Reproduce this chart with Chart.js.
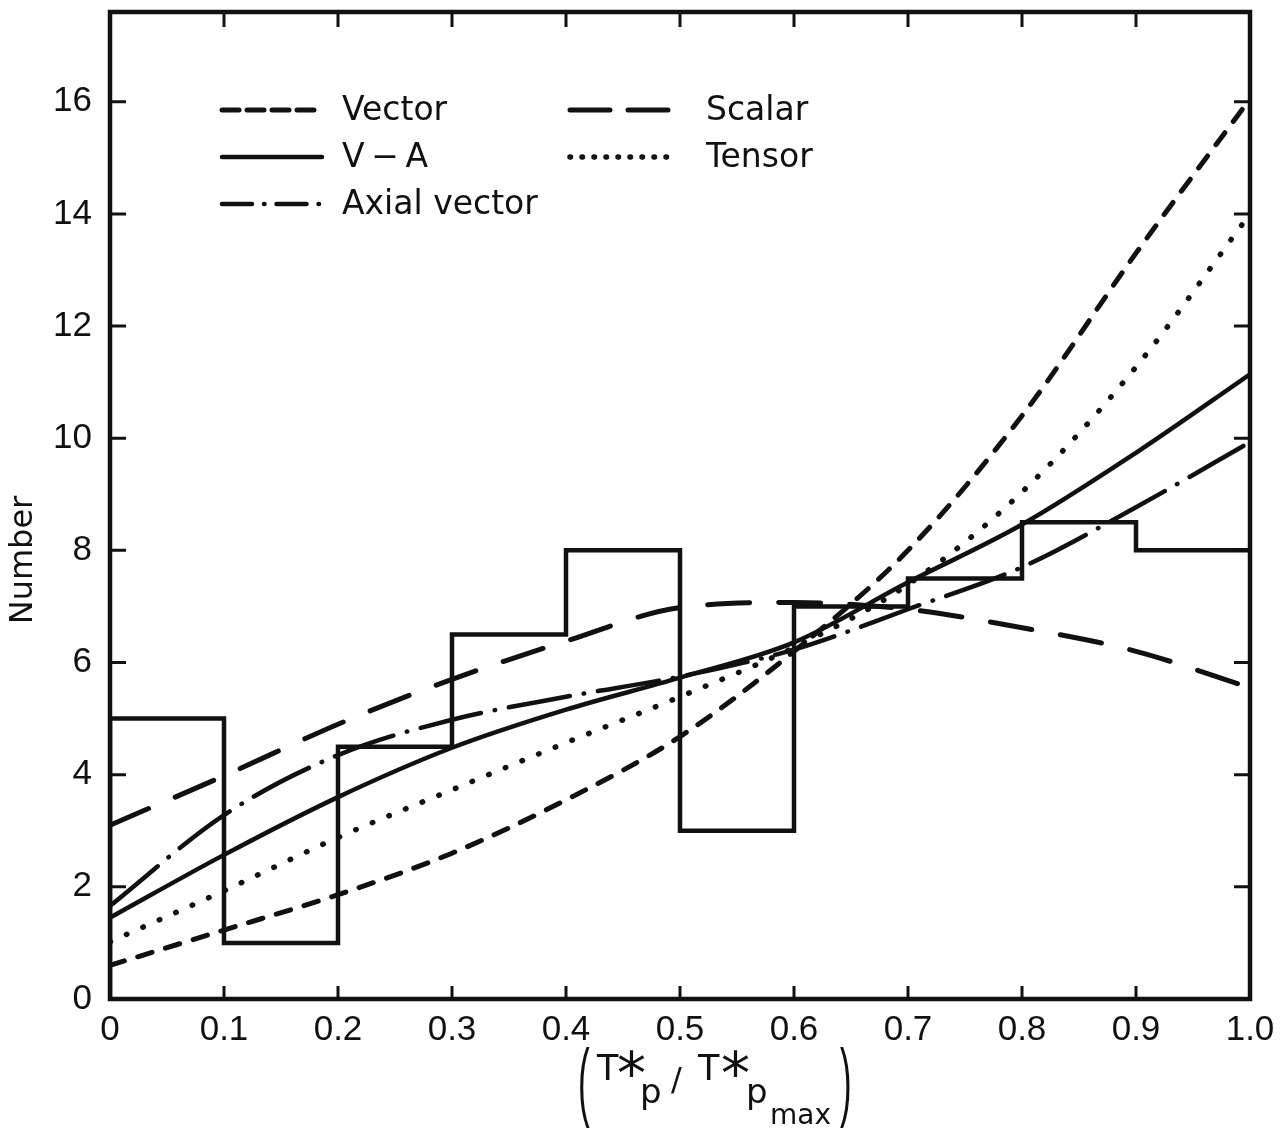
<!DOCTYPE html>
<html><head><meta charset="utf-8">
<script src="https://cdn.jsdelivr.net/npm/chart.js@4.4.1/dist/chart.umd.min.js"></script>
<style>html,body{margin:0;padding:0;background:#fff;overflow:hidden}#c{display:block}</style>
</head><body>
<canvas id="c" width="1285" height="1129" style="width:1285px;height:1129px"></canvas>
<script>
// ---- data ----
const xGrid = [0, 0.1, 0.2, 0.3, 0.4, 0.5, 0.6, 0.7, 0.8, 0.9, 1.0];
const xTickLabels = ['0', '0.1', '0.2', '0.3', '0.4', '0.5', '0.6', '0.7', '0.8', '0.9', '1.0'];
const yTickValues = [0, 2, 4, 6, 8, 10, 12, 14, 16];
const binEdges = [0, 0.1, 0.2, 0.3, 0.4, 0.5, 0.6, 0.7, 0.8, 0.9, 1.0];
const binCounts = [5, 1, 4.5, 6.5, 8, 3, 7, 7.5, 8.5, 8];
const vectorY = [0.6, 1.23, 1.86, 2.6, 3.55, 4.68, 6.2, 8.0, 10.4, 13.3, 16.05];
const vaY     = [1.45, 2.57, 3.6, 4.48, 5.16, 5.73, 6.36, 7.43, 8.46, 9.74, 11.14];
const axialY  = [1.66, 3.28, 4.35, 4.98, 5.39, 5.75, 6.23, 6.95, 7.7, 8.77, 9.93];
const scalarY = [3.1, 3.98, 4.9, 5.7, 6.38, 6.98, 7.07, 6.95, 6.62, 6.2, 5.55];
const tensorY = [1.02, 1.93, 2.88, 3.73, 4.57, 5.39, 6.27, 7.39, 9.04, 11.27, 14.0];
const seriesNames = ['Vector', 'V\u2009\u2212\u2009A', 'Axial vector', 'Scalar', 'Tensor'];
const yTitle = 'Number';

const INK = '#111';
const FONT = '"Liberation Sans", Arial, sans-serif';
const FONT2 = '"DejaVu Sans", sans-serif';

function pts(xs, ys) { return xs.map((x, i) => ({x: x, y: ys[i]})); }
const histPts = [{x: binEdges[0], y: 0}].concat(
  binEdges.map((e, i) => ({x: e, y: i < binCounts.length ? binCounts[i] : binCounts[binCounts.length - 1]}))
);

const styles = [
  {dash: [15, 14], width: 5, legendDash: [17, 8]},
  {dash: [], width: 4.5, legendDash: []},
  {dash: [62, 14, 0.5, 14], width: 4.5, legendDash: [30, 12, 0.5, 12]},
  {dash: [42, 29], width: 5, legendDash: [40, 18]},
  {dash: [0.5, 17.5], width: 5.5, legendDash: [0.5, 11.5]}
];
const seriesData = [vectorY, vaY, axialY, scalarY, tensorY];

const datasets = seriesData.map((ys, i) => ({
  label: seriesNames[i],
  data: pts(xGrid, ys),
  borderColor: INK,
  borderWidth: styles[i].width,
  borderDash: styles[i].dash,
  borderCapStyle: 'round',
  borderJoinStyle: 'round',
  pointRadius: 0,
  cubicInterpolationMode: 'monotone',
  fill: false
}));
datasets.push({
  label: 'histogram',
  data: histPts,
  borderColor: INK,
  borderWidth: 4.5,
  stepped: 'before',
  pointRadius: 0,
  fill: false
});

const decor = {
  id: 'decor',
  afterDraw(chart) {
    const ctx = chart.ctx;
    const a = chart.chartArea;
    const xs = chart.scales.x, ys = chart.scales.y;
    ctx.save();
    ctx.strokeStyle = INK; ctx.fillStyle = INK;
    // frame
    ctx.lineWidth = 4.5; ctx.setLineDash([]);
    ctx.strokeRect(a.left, a.top, a.right - a.left, a.bottom - a.top);
    // inward ticks
    ctx.lineWidth = 3;
    yTickValues.forEach(v => {
      if (v === 0) return;
      const y = ys.getPixelForValue(v);
      ctx.beginPath(); ctx.moveTo(a.left, y); ctx.lineTo(a.left + 16, y);
      ctx.moveTo(a.right, y); ctx.lineTo(a.right - 16, y); ctx.stroke();
    });
    xGrid.forEach(v => {
      if (v === 0 || v === 1) return;
      const x = xs.getPixelForValue(v);
      ctx.beginPath(); ctx.moveTo(x, a.bottom); ctx.lineTo(x, a.bottom - 13);
      ctx.moveTo(x, a.top); ctx.lineTo(x, a.top + 15); ctx.stroke();
    });
    // legend
    const legendPos = [
      {x1: 222, x2: 322, y: 110, tx: 342},
      {x1: 222, x2: 322, y: 157, tx: 342},
      {x1: 222, x2: 322, y: 204, tx: 342},
      {x1: 570, x2: 676, y: 110, tx: 706},
      {x1: 570, x2: 676, y: 157, tx: 706}
    ];
    ctx.font = '33px ' + FONT2;
    ctx.textBaseline = 'middle'; ctx.textAlign = 'left';
    legendPos.forEach((p, i) => {
      ctx.lineWidth = styles[i].width;
      ctx.lineCap = 'round';
      ctx.setLineDash(styles[i].legendDash);
      ctx.beginPath(); ctx.moveTo(p.x1, p.y); ctx.lineTo(p.x2, p.y); ctx.stroke();
      ctx.setLineDash([]);
      ctx.fillText(seriesNames[i], p.tx, p.y + 1);
    });
    // y title
    ctx.save();
    ctx.translate(24, 560); ctx.rotate(-Math.PI / 2);
    ctx.textAlign = 'center'; ctx.textBaseline = 'middle';
    ctx.font = '32px ' + FONT2;
    ctx.fillText(yTitle, 0, 0);
    ctx.restore();
    // x title  (T*p / T*p max)
    ctx.textAlign = 'left'; ctx.textBaseline = 'alphabetic';
    const paren = (ch, x) => {
      ctx.save(); ctx.translate(x, 1110); ctx.scale(1, 2.5);
      ctx.font = '35px ' + FONT; ctx.fillText(ch, 0, 0); ctx.restore();
    };
    paren('(', 578);
    const part = (t, x, y, size) => { ctx.font = size + 'px ' + FONT2; ctx.fillText(t, x, y); };
    part('T', 597, 1080, 35);
    part('*', 617, 1094, 58);
    part('p', 640, 1103, 34);
    part('/', 671, 1090, 32);
    part('T', 698, 1080, 35);
    part('*', 721, 1094, 58);
    part('p', 746, 1103, 34);
    part('max', 770, 1124, 28);
    paren(')', 840);
    ctx.restore();
  }
};

new Chart(document.getElementById('c'), {
  type: 'line',
  data: {datasets: datasets},
  options: {
    responsive: false,
    animation: false,
    devicePixelRatio: 1,
    layout: {padding: {left: 0, right: 35, top: 12, bottom: 0}},
    plugins: {legend: {display: false}, tooltip: {enabled: false}, title: {display: false}},
    scales: {
      x: {
        type: 'linear', min: 0, max: 1,
        afterBuildTicks: s => { s.ticks = xGrid.map(v => ({value: v})); },
        afterFit: s => { s.height = 130; s.paddingLeft = 0; s.paddingRight = 0; },
        grid: {display: false, drawTicks: false},
        border: {display: false},
        ticks: {
          autoSkip: false, maxRotation: 0, padding: 10, color: INK,
          font: {family: FONT, size: 35},
          callback: (v, i) => xTickLabels[i]
        }
      },
      y: {
        type: 'linear', min: 0, max: 17.6,
        afterBuildTicks: s => { s.ticks = yTickValues.map(v => ({value: v})); },
        afterFit: s => { s.width = 110; s.paddingTop = 0; s.paddingBottom = 0; },
        grid: {display: false, drawTicks: false},
        border: {display: false},
        ticks: {
          autoSkip: false, padding: 18, color: INK,
          font: {family: FONT, size: 35},
          callback: v => String(v)
        }
      }
    }
  },
  plugins: [decor]
});
</script>
</body></html>
